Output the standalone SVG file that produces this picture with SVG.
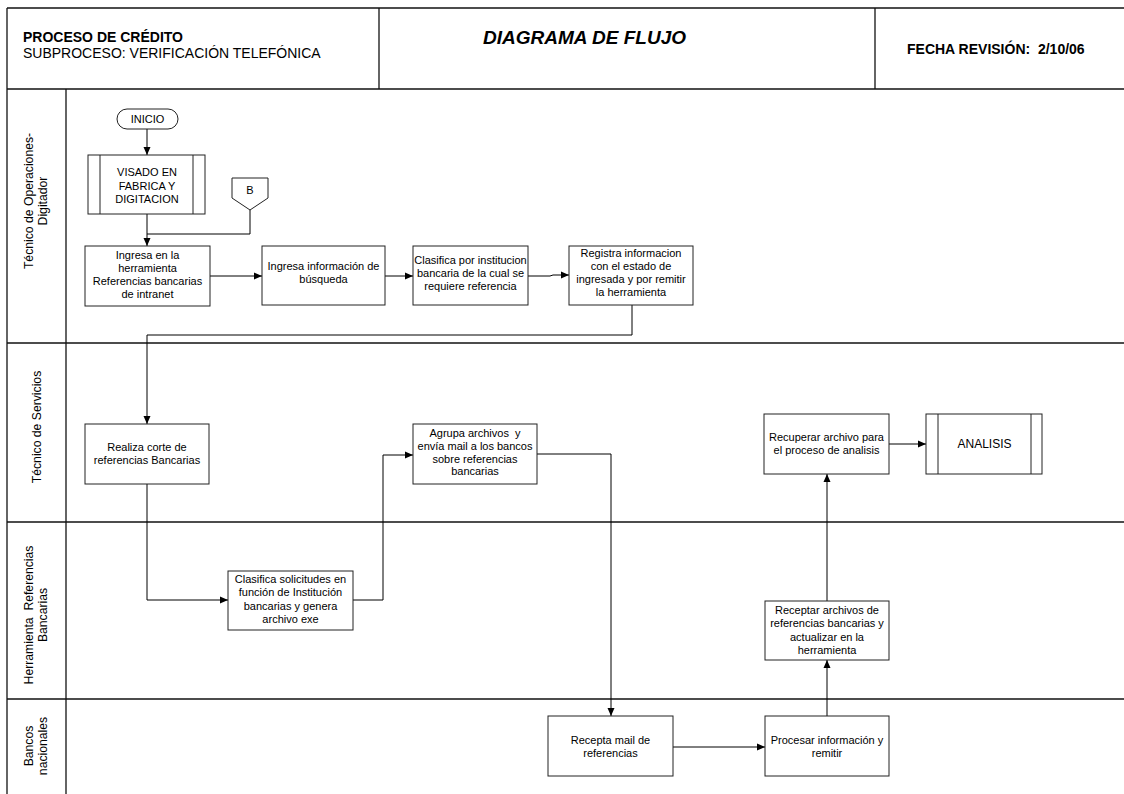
<svg xmlns="http://www.w3.org/2000/svg" width="1124" height="794" viewBox="0 0 1124 794">
  <style>
    .frame { fill: none; stroke: #111; stroke-width: 1.3; }
    .box { fill: #fff; stroke: #222; stroke-width: 1; }
    .inner { fill: none; stroke: #222; stroke-width: 1; }
    .t { font-family: "Liberation Sans", Arial, sans-serif; font-size: 11px; fill: #000; text-anchor: middle; }
    .lane { font-family: "Liberation Sans", Arial, sans-serif; font-size: 12.2px; fill: #000; text-anchor: middle; white-space: pre; }
    .hd { font-family: "Liberation Sans", Arial, sans-serif; font-size: 14px; fill: #000; white-space: pre; }
    .title { font-family: "Liberation Sans", Arial, sans-serif; font-size: 19px; font-weight: bold; font-style: italic; fill: #000; }
    .conn { fill: none; stroke: #000; stroke-width: 1; }
  </style>
  <defs>
    <marker id="arrow" markerUnits="userSpaceOnUse" markerWidth="8" markerHeight="8" refX="8" refY="4" orient="auto">
      <path d="M0,0.5 L8,4 L0,7.5 z" fill="#000"/>
    </marker>
  </defs>

  <rect width="1124" height="794" fill="#fff"/>

  <!-- header block -->
  <g id="header">
    <line class="frame" x1="7" y1="8" x2="1124" y2="8"/>
    <line class="frame" x1="7" y1="89" x2="1124" y2="89"/>
    <line class="frame" x1="379" y1="8" x2="379" y2="89"/>
    <line class="frame" x1="875" y1="8" x2="875" y2="89"/>
    <text class="hd" x="23" y="42" font-weight="bold">PROCESO DE CRÉDITO</text>
    <text class="hd" x="23" y="58">SUBPROCESO: VERIFICACIÓN TELEFÓNICA</text>
    <text class="title" x="483" y="44">DIAGRAMA DE FLUJO</text>
    <text class="hd" x="907" y="54" font-weight="bold">FECHA REVISIÓN:  2/10/06</text>
  </g>

  <!-- swimlanes -->
  <g id="lanes">
    <line class="frame" x1="7" y1="8" x2="7" y2="794"/>
    <line class="frame" x1="66" y1="89" x2="66" y2="794"/>
    <line class="frame" x1="7" y1="343" x2="1124" y2="343"/>
    <line class="frame" x1="7" y1="522" x2="1124" y2="522"/>
    <line class="frame" x1="7" y1="699" x2="1124" y2="699"/>
    <g transform="translate(36,201) rotate(-90)">
      <text class="lane" x="0" y="-3">Técnico de Operaciones-</text>
      <text class="lane" x="0" y="11">Digitador</text>
    </g>
    <g transform="translate(36,427) rotate(-90)">
      <text class="lane" x="0" y="5">Técnico de Servicios</text>
    </g>
    <g transform="translate(36,615) rotate(-90)">
      <text class="lane" x="0" y="-3">Herramienta  Referencias</text>
      <text class="lane" x="0" y="11">Bancarias</text>
    </g>
    <g transform="translate(36,746) rotate(-90)">
      <text class="lane" x="0" y="-3">Bancos</text>
      <text class="lane" x="0" y="11">nacionales</text>
    </g>
  </g>

  <!-- connectors -->
  <g id="connectors">
    <path class="conn" d="M147,129 V155" marker-end="url(#arrow)"/>
    <path class="conn" d="M147,214 V246" marker-end="url(#arrow)"/>
    <path class="conn" d="M250,210 V234 H147"/>
    <path class="conn" d="M210,276 H262" marker-end="url(#arrow)"/>
    <path class="conn" d="M385,276 H413" marker-end="url(#arrow)"/>
    <path class="conn" d="M528,276 H550 L553,275 H569" marker-end="url(#arrow)"/>
    <path class="conn" d="M632,305 V335 H147 V424" marker-end="url(#arrow)"/>
    <path class="conn" d="M147,484 V600 H228" marker-end="url(#arrow)"/>
    <path class="conn" d="M353,600 H383 V455 H413" marker-end="url(#arrow)"/>
    <path class="conn" d="M537,454 H611 V716" marker-end="url(#arrow)"/>
    <path class="conn" d="M673,747 H765" marker-end="url(#arrow)"/>
    <path class="conn" d="M827,716 V660" marker-end="url(#arrow)"/>
    <path class="conn" d="M827,601 V474" marker-end="url(#arrow)"/>
    <path class="conn" d="M889,444 H926" marker-end="url(#arrow)"/>
  </g>

  <!-- nodes -->
  <g id="inicio">
    <rect class="box" x="117" y="109" width="61" height="20" rx="10" ry="10"/>
    <text class="t" x="147.5" y="123">INICIO</text>
  </g>

  <g id="visado">
    <rect class="box" x="88" y="155" width="117" height="59"/>
    <line class="inner" x1="100" y1="155" x2="100" y2="214"/>
    <line class="inner" x1="193" y1="155" x2="193" y2="214"/>
    <text class="t" x="147" y="176">VISADO EN</text>
    <text class="t" x="147" y="189.5">FABRICA Y</text>
    <text class="t" x="147" y="203">DIGITACION</text>
  </g>

  <g id="conector-b">
    <polygon class="box" points="232,178 268,178 268,198 250,210 232,198"/>
    <text class="t" x="250" y="194">B</text>
  </g>

  <g id="ingresa-herramienta">
    <rect class="box" x="85" y="246" width="125" height="60"/>
    <text class="t" x="147.5" y="259">Ingresa en la</text>
    <text class="t" x="147.5" y="272">herramienta</text>
    <text class="t" x="147.5" y="285">Referencias bancarias</text>
    <text class="t" x="147.5" y="298">de intranet</text>
  </g>

  <g id="ingresa-busqueda">
    <rect class="box" x="262" y="246" width="123" height="59"/>
    <text class="t" x="323.5" y="270">Ingresa información de</text>
    <text class="t" x="323.5" y="283">búsqueda</text>
  </g>

  <g id="clasifica-institucion">
    <rect class="box" x="413" y="246" width="115" height="59"/>
    <text class="t" x="470.5" y="264">Clasifica por institucion</text>
    <text class="t" x="470.5" y="277">bancaria de la cual se</text>
    <text class="t" x="470.5" y="290">requiere referencia</text>
  </g>

  <g id="registra">
    <rect class="box" x="569" y="246" width="124" height="59"/>
    <text class="t" x="631" y="257">Registra informacion</text>
    <text class="t" x="631" y="270">con el estado de</text>
    <text class="t" x="631" y="283">ingresada y por remitir</text>
    <text class="t" x="631" y="296">la herramienta</text>
  </g>

  <g id="realiza-corte">
    <rect class="box" x="85" y="424" width="124" height="60"/>
    <text class="t" x="147" y="451">Realiza corte de</text>
    <text class="t" x="147" y="464">referencias Bancarias</text>
  </g>

  <g id="clasifica-solicitudes">
    <rect class="box" x="228" y="571" width="125" height="59"/>
    <text class="t" x="290.5" y="583">Clasifica solicitudes en</text>
    <text class="t" x="290.5" y="596">función de Institución</text>
    <text class="t" x="290.5" y="609.5">bancarias y genera</text>
    <text class="t" x="290.5" y="623">archivo exe</text>
  </g>

  <g id="agrupa">
    <rect class="box" x="413" y="424" width="124" height="60"/>
    <text class="t" x="475" y="437" style="white-space:pre">Agrupa archivos  y</text>
    <text class="t" x="475" y="450">envía mail a los bancos</text>
    <text class="t" x="475" y="462.5">sobre referencias</text>
    <text class="t" x="475" y="475">bancarias</text>
  </g>

  <g id="recepta-mail">
    <rect class="box" x="548" y="716" width="125" height="60"/>
    <text class="t" x="610.5" y="744">Recepta mail de</text>
    <text class="t" x="610.5" y="757">referencias</text>
  </g>

  <g id="procesar">
    <rect class="box" x="765" y="716" width="124" height="60"/>
    <text class="t" x="827" y="744">Procesar información y</text>
    <text class="t" x="827" y="757">remitir</text>
  </g>

  <g id="receptar">
    <rect class="box" x="765" y="601" width="124" height="59"/>
    <text class="t" x="827" y="614">Receptar archivos de</text>
    <text class="t" x="827" y="627">referencias bancarias y</text>
    <text class="t" x="827" y="640.5">actualizar en la</text>
    <text class="t" x="827" y="654">herramienta</text>
  </g>

  <g id="recuperar">
    <rect class="box" x="764" y="414" width="125" height="60"/>
    <text class="t" x="826.5" y="441">Recuperar archivo para</text>
    <text class="t" x="826.5" y="454">el proceso de analisis</text>
  </g>

  <g id="analisis">
    <rect class="box" x="926" y="414" width="116" height="60"/>
    <line class="inner" x1="938" y1="414" x2="938" y2="474"/>
    <line class="inner" x1="1031" y1="414" x2="1031" y2="474"/>
    <text class="t" x="984.5" y="448" style="font-size:12px">ANALISIS</text>
  </g>
</svg>
